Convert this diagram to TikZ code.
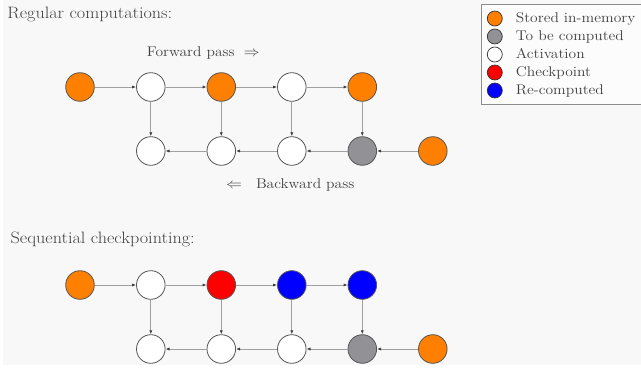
\documentclass[tikz,border=0pt]{standalone}
\usepackage{fontspec}
\usepackage{graphicx}
\usetikzlibrary{arrows.meta}

\definecolor{pagebg}{HTML}{F8F8F8}
\definecolor{storedc}{RGB}{255,128,0}
\definecolor{todoc}{RGB}{146,146,150}
\definecolor{ckptc}{RGB}{255,0,0}
\definecolor{recompc}{RGB}{0,0,255}
\definecolor{edgec}{HTML}{555555}
\definecolor{linkc}{HTML}{A0A0A0}
\definecolor{tipc}{HTML}{404040}

\newcommand{\widetext}[1]{\scalebox{1.1}[1]{#1}}

\tikzset{
  act/.style={circle, draw=edgec, line width=0.8pt, minimum size=28.6pt, inner sep=0pt, fill=white},
  stored/.style={act, fill=storedc},
  todo/.style={act, fill=todoc},
  ckpt/.style={act, fill=ckptc},
  recomp/.style={act, fill=recompc},
  link/.style={draw=linkc, line width=0.9pt, -{Latex[length=4pt, width=3.2pt, color=tipc]}},
  heading/.style={anchor=base west, inner sep=0pt, font=\fontsize{16.5}{20}\selectfont, text=black!75},
  label/.style={anchor=base west, inner sep=0pt, font=\fontsize{14.1}{17}\selectfont, text=black!75},
  keydot/.style={circle, draw=black!80, line width=0.7pt, minimum size=15pt, inner sep=0pt},
}

\begin{document}
\begin{tikzpicture}[x=1pt, y=-1pt]
  \useasboundingbox (0,0) rectangle (641,369);
  \fill[white] (0,0) rectangle (641,369);
  \fill[pagebg] (3,0) rectangle (641,365);

  % ---- regular computations ----
  \node[heading] (t1) at (7.3,18.3) {\widetext{Regular computations:}};
  \node[label] (fw) at (146.7,56.3) {\widetext{Forward pass\hspace{0.6em}$\Rightarrow$}};
  \node[label] (bw) at (226,189) {\widetext{$\Leftarrow$\hspace{0.9em}Backward pass}};

  \node[stored] (a0) at (80,87) {};
  \node[act]    (a1) at (150.8,87) {};
  \node[stored] (a2) at (221.3,87) {};
  \node[act]    (a3) at (291.8,87) {};
  \node[stored] (a4) at (362.3,87) {};
  \node[act]    (b1) at (150.8,151) {};
  \node[act]    (b2) at (221.3,151) {};
  \node[act]    (b3) at (291.8,151) {};
  \node[todo]   (b4) at (362.3,151) {};
  \node[stored] (b5) at (432.8,151) {};

  \draw[link] (a0) -- (a1);
  \draw[link] (a1) -- (a2);
  \draw[link] (a2) -- (a3);
  \draw[link] (a3) -- (a4);
  \draw[link] (a1) -- (b1);
  \draw[link] (a2) -- (b2);
  \draw[link] (a3) -- (b3);
  \draw[link] (a4) -- (b4);
  \draw[link] (b5) -- (b4);
  \draw[link] (b4) -- (b3);
  \draw[link] (b3) -- (b2);
  \draw[link] (b2) -- (b1);

  % ---- sequential checkpointing ----
  \node[heading] (t2) at (10.5,243) {\widetext{Sequential checkpointing:}};

  \node[stored] (c0) at (80,285) {};
  \node[act]    (c1) at (150.8,285) {};
  \node[ckpt]   (c2) at (221.3,285) {};
  \node[recomp] (c3) at (291.8,285) {};
  \node[recomp] (c4) at (362.3,285) {};
  \node[act]    (d1) at (150.8,349) {};
  \node[act]    (d2) at (221.3,349) {};
  \node[act]    (d3) at (291.8,349) {};
  \node[todo]   (d4) at (362.3,349) {};
  \node[stored] (d5) at (432.8,349) {};

  \draw[link] (c0) -- (c1);
  \draw[link] (c1) -- (c2);
  \draw[link] (c2) -- (c3);
  \draw[link] (c3) -- (c4);
  \draw[link] (c1) -- (d1);
  \draw[link] (c2) -- (d2);
  \draw[link] (c3) -- (d3);
  \draw[link] (c4) -- (d4);
  \draw[link] (d5) -- (d4);
  \draw[link] (d4) -- (d3);
  \draw[link] (d3) -- (d2);
  \draw[link] (d2) -- (d1);

  % ---- legend ----
  \node[draw=black!45, line width=0.8pt, fill=white!60!pagebg, inner sep=0pt,
        minimum width=170pt, minimum height=100pt, anchor=north west] (key) at (481,4) {};
  \node[keydot, fill=storedc] (k1) at (494.8,18.5) {};
  \node[keydot, fill=todoc]   (k2) at (494.8,36.5) {};
  \node[keydot, fill=white]   (k3) at (494.8,54.5) {};
  \node[keydot, fill=ckptc]   (k4) at (494.8,72.5) {};
  \node[keydot, fill=recompc] (k5) at (494.8,90.5) {};
  \node[label] (l1) at (515.7,22.2) {\widetext{Stored in-memory}};
  \node[label] (l2) at (515.7,40.2) {\widetext{To be computed}};
  \node[label] (l3) at (515.7,58.2) {\widetext{Activation}};
  \node[label] (l4) at (515.7,76.2) {\widetext{Checkpoint}};
  \node[label] (l5) at (515.7,94.2) {\widetext{Re-computed}};
\end{tikzpicture}
\end{document}
